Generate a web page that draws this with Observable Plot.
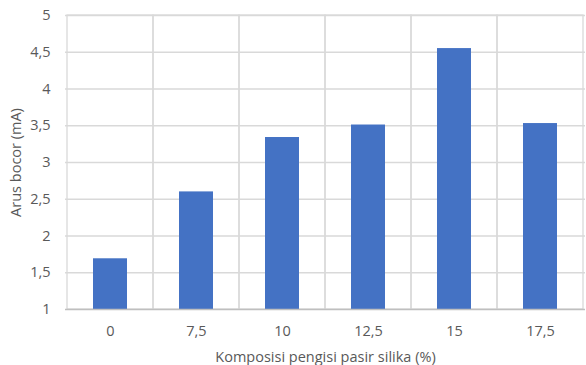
<!DOCTYPE html>
<html>
<head>
<meta charset="utf-8">
<script src="https://cdn.jsdelivr.net/npm/d3@7"></script>
<script src="https://cdn.jsdelivr.net/npm/@observablehq/plot@0.6"></script>
<style>
  html, body { margin: 0; padding: 0; background: #fff; }
  #chart svg { display: block; }
</style>
</head>
<body>
<div id="chart"></div>
<script>
// Leakage current by silica sand filler composition
const composition = ["0", "7,5", "10", "12,5", "15", "17,5"];
const current = [1.69, 2.60, 3.34, 3.51, 4.55, 3.53];
const yTicks = [1, 1.5, 2, 2.5, 3, 3.5, 4, 4.5, 5];

const data = composition.map((c, i) => ({ c, v: current[i] }));
const comma = d => String(d).replace(".", ",");
const textColor = "#595959";
const fs = 14.5;

const chart = Plot.plot({
  width: 586,
  height: 365,
  marginLeft: 65,
  marginRight: 1,
  marginTop: 15,
  marginBottom: 56,
  style: { fontFamily: "'Open Sans', sans-serif", fontSize: fs + "px", color: textColor, background: "#fff" },
  x: { type: "band", domain: composition, padding: 0 },
  y: { domain: [1, 5] },
  marks: [
    // horizontal gridlines
    Plot.ruleY(yTicks.slice(1), { stroke: "#d9d9d9", strokeWidth: 1.3 }),
    // vertical gridlines at category boundaries
    Plot.barY(composition, { x: d => d, y1: 1, y2: 5, fill: "none", stroke: "#d9d9d9", strokeWidth: 1.3 }),
    Plot.barY(data, { x: "c", y1: 1, y2: "v", fill: "#4472C4", insetLeft: 26, insetRight: 26 }),
    Plot.ruleY([1], { stroke: "#bfbfbf", strokeWidth: 1.3 }),
    Plot.axisY({ ticks: yTicks, tickFormat: comma, tickSize: 0, tickPadding: 15, fontSize: fs,
      label: "Arus bocor (mA)", labelAnchor: "center", labelOffset: 55, labelArrow: "none" }),
    Plot.axisX({ tickSize: 0, tickPadding: 16, fontSize: fs,
      label: "Komposisi pengisi pasir silika (%)", labelAnchor: "center", labelOffset: 52, labelArrow: "none" })
  ]
});
document.getElementById("chart").append(chart);
</script>
</body>
</html>
